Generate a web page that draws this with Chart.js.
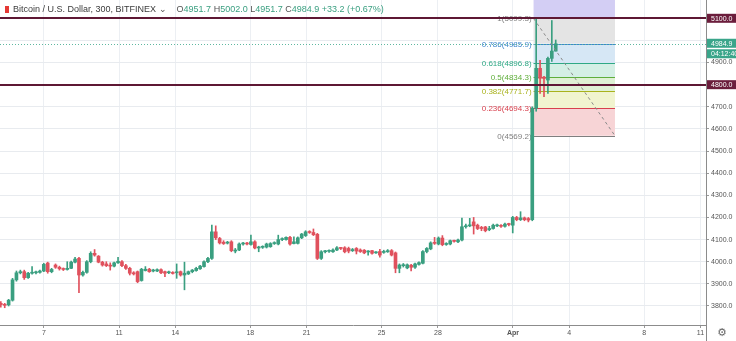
<!DOCTYPE html>
<html><head><meta charset="utf-8">
<script src="https://cdn.jsdelivr.net/npm/chart.js@4.4.1/dist/chart.umd.min.js"></script>
<style>
html,body{margin:0;padding:0;background:#fff;}
#wrap{position:relative;width:736px;height:341px;overflow:hidden;}
canvas{display:block;}
#hdr{position:absolute;left:5px;top:4px;font:9px "Liberation Sans",Arial,sans-serif;color:#3b3b3b;white-space:nowrap;line-height:11px;}
#hdr .ic{display:inline-block;width:4px;height:7px;background:#e53935;margin-right:4px;vertical-align:-1px;}
#hdr .g{color:#3a9f80;}
#hdr .k{color:#555;}
</style>
</head><body>
<div id="wrap">
<canvas id="c" width="736" height="341"></canvas>
<div id="hdr"><span class="ic"></span>Bitcoin / U.S. Dollar, 300, BITFINEX <span class="k">&#8964;</span>&nbsp;&nbsp;&nbsp; <span class="k">O</span><span class="g">4951.7</span> <span class="k">H</span><span class="g">5002.0</span> <span class="k">L</span><span class="g">4951.7</span> <span class="k">C</span><span class="g">4984.9</span> <span class="g">+33.2 (+0.67%)</span></div>
</div>
<script>
// ---- data (300-minute candles, BTC/USD Bitfinex) ----
const firstCandleDay = 4.698;      // day of March of first candle
const candleStep = 5 / 24;         // 300 minutes in days
const opens = [3812,3806,3805,3826,3918,3950,3955,3928,3948,3950,3952,3958,3994,3955,3985,3975,3968,3965,3970,3998,
4015,3940,3952,4000,4038,4025,3998,3990,3984,3980,3995,4000,3982,3970,3950,3955,3915,3960,3966,3958,
3958,3964,3955,3950,3950,3950,3955,3940,3945,3955,3960,3968,3978,4000,4015,4135,4105,4088,4084,4090,
4048,4053,4080,4083,4078,4090,4062,4065,4066,4068,4082,4080,4100,4100,4110,4082,4083,4108,4118,4135,
4132,4124,4015,4045,4047,4045,4053,4062,4063,4060,4050,4060,4053,4052,4044,4050,4040,4046,4042,4045,
4050,4040,3970,3982,3972,3984,3975,3988,3993,4046,4058,4085,4080,4107,4078,4080,4094,4090,4098,4158,
4162,4180,4165,4155,4157,4145,4150,4162,4163,4160,4170,4165,4200,4190,4198,4195,4190,4694,4874,4834,
4821,4919,4951.7];
const highs = [3820,3812,3830,3925,3958,3962,3962,3952,3978,3958,3962,3993,3998,3970,3990,3980,3972,4000,4003,4020,
4020,3958,4005,4045,4055,4028,4002,4000,3995,3998,4020,4005,3988,3975,3955,3958,3970,3978,3970,3966,
3968,3968,3958,3958,3955,3990,3958,3998,3958,3965,3975,3984,4004,4020,4166,4162,4110,4095,4092,4095,
4060,4085,4088,4088,4120,4095,4070,4072,4084,4086,4090,4120,4108,4113,4115,4113,4112,4128,4140,4140,
4148,4128,4050,4052,4054,4058,4068,4065,4068,4066,4060,4064,4058,4055,4050,4052,4046,4056,4052,4055,
4055,4044,3990,3992,3990,3988,3994,4000,4050,4064,4090,4110,4112,4118,4086,4098,4098,4102,4197,4170,
4196,4200,4170,4160,4160,4160,4170,4170,4168,4175,4174,4205,4205,4226,4202,4200,4700,5099.3,4910,4838,
4925,5090,5002];
const lows = [3795,3792,3800,3822,3912,3945,3920,3925,3944,3945,3948,3955,3948,3950,3970,3962,3960,3962,3968,3995,
3860,3935,3948,3995,4025,3995,3980,3978,3962,3976,3992,3978,3965,3940,3940,3905,3912,3958,3952,3954,
3955,3946,3932,3946,3944,3925,3935,3873,3942,3950,3957,3965,3975,3996,4010,4100,4080,4078,4080,4045,
4040,4050,4075,4076,4075,4058,4045,4060,4062,4065,4078,4076,4095,4097,4075,4080,4080,4104,4114,4128,
4118,4010,4010,4040,4042,4042,4050,4055,4040,4040,4046,4035,4042,4036,4030,4034,4037,4020,4038,4042,
4026,3950,3950,3976,3968,3958,3970,3984,3990,4040,4054,4078,4076,4072,4074,4076,4088,4086,4094,4152,
4158,4125,4145,4140,4135,4140,4147,4158,4155,4156,4162,4130,4185,4186,4185,4180,4185,4680,4760,4746,
4760,4905,4951.7];
const closes = [3806,3803,3826,3918,3950,3955,3928,3948,3950,3952,3958,3988,3955,3965,3975,3968,3965,3970,3998,4012,
3940,3952,4000,4038,4030,3998,3985,3982,3980,3995,4002,3982,3970,3948,3945,3910,3966,3966,3955,3962,
3964,3950,3948,3953,3947,3952,3940,3948,3955,3962,3970,3980,4000,4015,4135,4108,4085,4082,4086,4050,
4053,4080,4083,4080,4090,4062,4065,4068,4080,4082,4085,4100,4103,4110,4080,4090,4108,4125,4135,4132,
4122,4015,4045,4048,4050,4053,4063,4060,4045,4048,4055,4048,4046,4040,4047,4038,4042,4030,4046,4050,
4030,3970,3985,3986,3986,3975,3990,3996,4046,4060,4085,4083,4107,4077,4082,4095,4092,4098,4158,4162,
4166,4162,4150,4150,4140,4150,4165,4165,4160,4170,4168,4200,4190,4198,4190,4188,4694,4874,4829,4828,
4919,4952,4984.9];

const tickDays   = [7, 11, 14, 18, 21, 25, 28, 32, 35, 39, 42];
const tickLabels = ['7','11','14','18','21','25','28','Apr','4','8','11'];
const priceTicks = [3800,3900,4000,4100,4200,4300,4400,4500,4600,4700,4800,4900,5000,5100];

const fibLevels = [0, 0.236, 0.382, 0.5, 0.618, 0.786, 1, 1.618];
const fibLow = 4569.2, fibHigh = 5099.3;
const fibStartDay = 33.1, fibEndDay = 37.44;
const hLinePrices = [5100, 4800];
const lastPrice = 4984.9;
const countdown = '04:12:40';

// ---- view ----
const xMin = 4.655, xMax = 42.293, yMin = 3714, yMax = 5182.7;
const UP = '#3a9f80', DOWN = '#e0515d';

const fibLineColors = ['#7f7f7f','#d8404e','#a9b21c','#5fae3a','#2fa985','#3d86cc','#7f7f7f','#6f62d8'];
const fibFillColors = [null,'#f7d4d6','#f1f4cf','#dff1d4','#d4efe5','#d6e7f5','#e4e4e4','#d3cef4'];

const candleDays = opens.map((o, i) => firstCandleDay + i * candleStep);
const colors = closes.map((c, i) => c >= opens[i] ? UP : DOWN);
const bodyData = candleDays.map((d, i) => ({x: d, y: [opens[i], closes[i]]}));
const wickData = candleDays.map((d, i) => ({x: d, y: [lows[i], highs[i]]}));

const F = '"Liberation Sans", Arial, sans-serif';

const overlay = {
  id: 'overlay',
  beforeDatasetsDraw(chart) {
    const {ctx, chartArea: a, scales: {x, y}} = chart;
    ctx.save();
    ctx.beginPath(); ctx.rect(a.left, a.top, a.right - a.left, a.bottom - a.top); ctx.clip();
    const x1 = x.getPixelForValue(fibStartDay), x2 = x.getPixelForValue(fibEndDay);
    const prices = fibLevels.map(l => fibLow + l * (fibHigh - fibLow));
    for (let k = 1; k < fibLevels.length; k++) {
      const yA = y.getPixelForValue(prices[k - 1]), yB = y.getPixelForValue(prices[k]);
      ctx.fillStyle = fibFillColors[k];
      ctx.fillRect(x1, yB, x2 - x1, yA - yB);
    }
    for (let k = 0; k < fibLevels.length; k++) {
      const py = Math.round(y.getPixelForValue(prices[k])) + 0.5;
      ctx.strokeStyle = fibLineColors[k]; ctx.lineWidth = 1;
      ctx.beginPath(); ctx.moveTo(x1, py); ctx.lineTo(x2, py); ctx.stroke();
      if (fibLevels[k] <= 1) {
        ctx.fillStyle = fibLineColors[k];
        ctx.font = '8px ' + F; ctx.textAlign = 'right'; ctx.textBaseline = 'middle';
        ctx.fillText(fibLevels[k] + '(' + prices[k].toFixed(1) + ')', x1 - 2, py);
      }
    }
    // current price dotted line
    const ly = Math.round(y.getPixelForValue(lastPrice)) + 0.5;
    ctx.strokeStyle = '#5fb8a0'; ctx.setLineDash([1, 2]);
    ctx.beginPath(); ctx.moveTo(a.left, ly); ctx.lineTo(a.right, ly); ctx.stroke();
    ctx.restore();
  },
  afterDatasetsDraw(chart) {
    const {ctx, chartArea: a, scales: {x, y}} = chart;
    ctx.save();
    ctx.strokeStyle = '#8a8a8a'; ctx.lineWidth = 1; ctx.setLineDash([3, 3]);
    ctx.beginPath();
    ctx.moveTo(x.getPixelForValue(fibStartDay), y.getPixelForValue(fibHigh));
    ctx.lineTo(x.getPixelForValue(fibEndDay), y.getPixelForValue(fibLow));
    ctx.stroke();
    ctx.setLineDash([]);
    ctx.strokeStyle = '#5e1834'; ctx.lineWidth = 2;
    hLinePrices.forEach(p => {
      const py = Math.round(y.getPixelForValue(p));
      ctx.beginPath(); ctx.moveTo(a.left, py); ctx.lineTo(a.right, py); ctx.stroke();
    });
    ctx.restore();
  },
  afterDraw(chart) {
    const {ctx, chartArea: a, scales: {y}} = chart;
    ctx.save();
    ctx.font = '7px ' + F; ctx.textAlign = 'left'; ctx.textBaseline = 'middle';
    const box = (py, bg, txt) => {
      ctx.fillStyle = bg; ctx.fillRect(a.right + 1, py - 4.5, 30, 9);
      ctx.fillStyle = '#ffffff'; ctx.fillText(txt, a.right + 5, py + 0.5);
    };
    hLinePrices.forEach(p => box(y.getPixelForValue(p), '#6b1d3c', p.toFixed(1)));
    const ly = y.getPixelForValue(lastPrice);
    box(ly - 0.5, '#3aa58a', lastPrice.toFixed(1));
    box(ly + 10, '#3aa58a', countdown);
    ctx.fillStyle = '#666'; ctx.font = '11px "DejaVu Sans"'; ctx.textAlign = 'center';
    ctx.fillText('\u2699', 722, 333);
    ctx.strokeStyle = '#888'; ctx.lineWidth = 1;
    ctx.beginPath(); ctx.moveTo(a.right + 0.5, a.bottom); ctx.lineTo(a.right + 0.5, 341); ctx.stroke();
    ctx.restore();
  }
};

new Chart(document.getElementById('c'), {
  type: 'bar',
  data: {
    datasets: [
      {label: 'body', data: bodyData, backgroundColor: colors, barThickness: 3, grouped: false, minBarLength: 1, order: 0},
      {label: 'wick', data: wickData, backgroundColor: colors, barThickness: 1, grouped: false, minBarLength: 1, order: 1}
    ]
  },
  options: {
    responsive: false, animation: false,
    layout: {padding: 0},
    plugins: {legend: {display: false}, tooltip: {enabled: false}},
    scales: {
      x: {
        type: 'linear', min: xMin, max: xMax, offset: false,
        afterFit(s) { s.height = 16; s.paddingLeft = 0; s.paddingRight = 0; },
        afterBuildTicks(s) { s.ticks = tickDays.map(v => ({value: v})); },
        ticks: {
          autoSkip: false, maxRotation: 0, padding: 1, color: '#555',
          font: c => ({size: 7, family: F, weight: tickLabels[c.index] === 'Apr' ? 'bold' : 'normal'}),
          callback: (v, i) => tickLabels[i]
        },
        grid: {color: '#eceff3', offset: false, tickLength: 3, tickColor: '#999'},
        border: {color: '#8c8c8c'}
      },
      y: {
        position: 'right', min: yMin, max: yMax,
        afterFit(s) { s.width = 30; s.paddingTop = 0; s.paddingBottom = 0; },
        afterBuildTicks(s) { s.ticks = priceTicks.map(v => ({value: v})); },
        ticks: {
          padding: 2, color: '#555', font: {size: 7, family: F},
          callback: v => (v === 4800 || v === 5000 || v === 5100) ? '' : v.toFixed(1)
        },
        grid: {color: '#e8ebef', tickLength: 3, tickColor: '#999'},
        border: {color: '#8c8c8c'}
      }
    }
  },
  plugins: [overlay]
});
</script>
</body></html>
